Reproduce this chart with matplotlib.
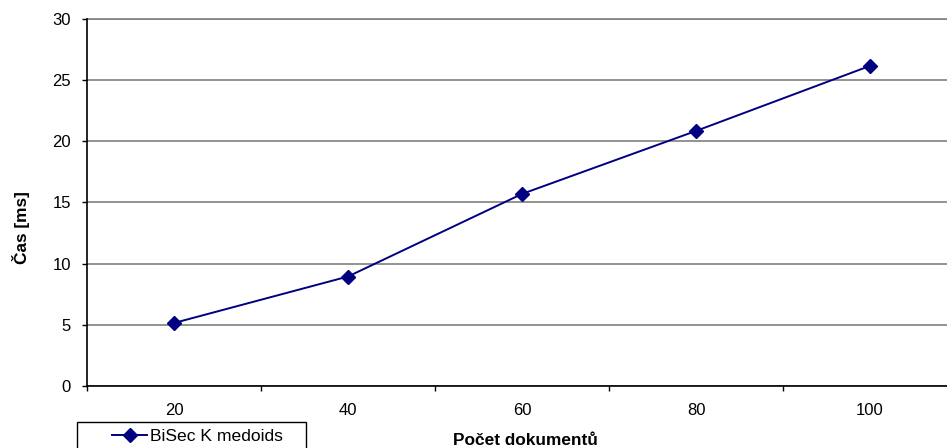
import numpy as np
import matplotlib.pyplot as plt
from matplotlib.patches import Rectangle

plt.rcParams['font.family'] = ['Liberation Sans', 'DejaVu Sans']

# --- data ---
pocet = ['20', '40', '60', '80', '100']
cas_ms = [5.15, 8.95, 15.7, 20.85, 26.17]
series_name = 'BiSec K medoids'

W, H = 947, 448
fig = plt.figure(figsize=(W / 100, H / 100), dpi=100)
ax = fig.add_axes([87 / W, (H - 386) / H, 870 / W, 367 / H])

xpos = np.arange(len(pocet))
ax.plot(xpos, cas_ms, color='#000080', lw=1.4, marker='D', ms=7,
        mec='#000080', mfc='#000080', label=series_name, clip_on=False, zorder=5)

ax.set_xlim(-0.5, len(pocet) - 0.5)
ax.set_ylim(0, 30)
ax.set_yticks(np.arange(0, 31, 5))
ax.set_xticks(np.arange(-0.5, len(pocet), 1.0))
ax.set_xticklabels([])
ax.set_xticks(xpos, minor=True)
ax.set_xticklabels(pocet, minor=True)
ax.tick_params(axis='x', which='minor', length=0, pad=12, labelsize=12)
ax.tick_params(axis='x', which='major', length=3.6, width=1, color='black', direction='out')
ax.tick_params(axis='y', length=3.6, width=1, color='black', labelsize=12, pad=8)

ax.yaxis.grid(True, color='#808080', lw=1.2)
ax.set_axisbelow(True)
for s in ['top', 'right']:
    ax.spines[s].set_visible(False)
ax.spines['left'].set_linewidth(1.2)
ax.spines['bottom'].set_linewidth(1.2)
ax.plot([-0.5, len(pocet) - 0.5], [30, 30], color='#808080', lw=1.2, clip_on=False, zorder=1)

fig.text(21 / W, 1 - 228 / H, 'Čas [ms]', rotation=90, ha='center', va='center',
         fontsize=12.4, fontweight='bold')
fig.text(525 / W, 1 - 440 / H, 'Počet dokumentů', ha='center', va='center',
         fontsize=12.4, fontweight='bold')

# legend box (cut by bottom edge like the original)
fig.patches.append(Rectangle((77 / W, -0.05), (306 - 77) / W, 0.05 + (H - 422) / H,
                             transform=fig.transFigure, fill=False, ec='black', lw=1.0))
fig.legend(loc='center left', bbox_to_anchor=(112 / W, 1 - 436 / H), frameon=False,
           fontsize=12.6, handlelength=2.0, handletextpad=0.2, borderpad=0, borderaxespad=0)

fig.savefig('out.png', dpi=100)
